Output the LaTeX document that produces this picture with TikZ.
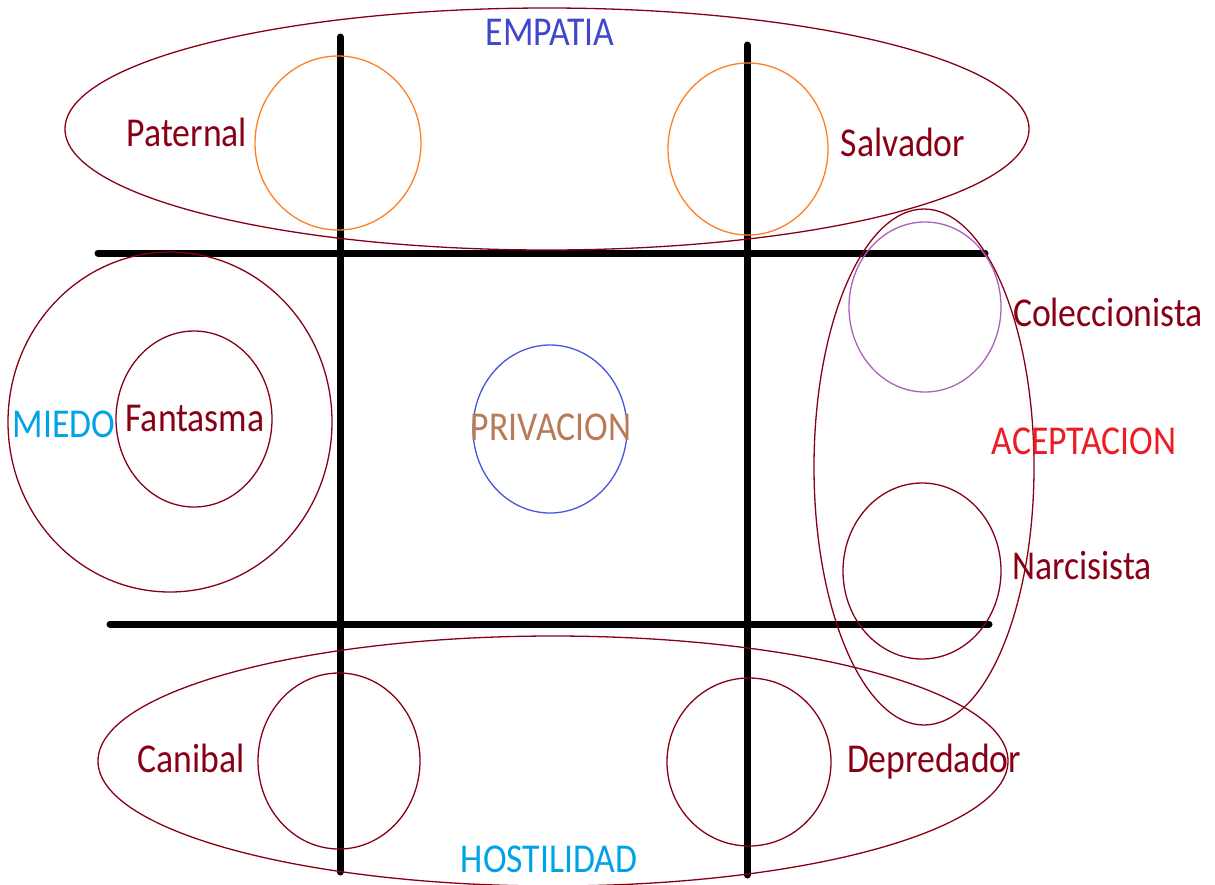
\documentclass[tikz,border=0pt]{standalone}
\usepackage{fontspec}
\setmainfont[FakeStretch=0.87]{Carlito}
\definecolor{dred}{RGB}{136,0,21}
\definecolor{indig}{RGB}{63,72,204}
\definecolor{turq}{RGB}{0,162,232}
\definecolor{pbrown}{RGB}{185,122,87}
\definecolor{pred}{RGB}{237,28,36}
\definecolor{porange}{RGB}{255,127,39}
\definecolor{ppurple}{RGB}{175,95,190}
\definecolor{pblue}{RGB}{70,85,225}
\tikzset{
  thin line/.style={line width=1.3pt},
  axis line/.style={line width=7pt, line cap=round, black},
  lbl/.style={inner sep=0pt, anchor=base, font=\fontsize{41}{41}\selectfont}
}
\begin{document}
\begin{tikzpicture}[x=1pt,y=-1pt]
\useasboundingbox (0,0) rectangle (1215,884);
\fill[white] (0,0) rectangle (1215,884);
% grid lines
\draw[axis line] (340,37) -- (340,872);
\draw[axis line] (747,45) -- (747,875);
\draw[axis line] (98,253) -- (985,253);
\draw[axis line] (110,624) -- (989,624);
% group ellipses
\draw[thin line, dred] (547,129) ellipse [x radius=482pt, y radius=121pt];
\draw[thin line, dred] (553,761) ellipse [x radius=455pt, y radius=125pt];
\draw[thin line, dred] (924,467) ellipse [x radius=110pt, y radius=258pt];
\draw[thin line, dred] (170,422) ellipse [x radius=162pt, y radius=170pt];
% circles
\draw[thin line, porange] (338,143) ellipse [x radius=83pt, y radius=87pt];
\draw[thin line, porange] (748,149) ellipse [x radius=80pt, y radius=86pt];
\draw[thin line, dred] (194,419) ellipse [x radius=78pt, y radius=88pt];
\draw[thin line, pblue] (550,429) ellipse [x radius=77pt, y radius=84pt];
\draw[thin line, ppurple] (925,307) ellipse [x radius=76pt, y radius=85pt];
\draw[thin line, dred] (922,571) ellipse [x radius=79pt, y radius=88pt];
\draw[thin line, dred] (339,761) ellipse [x radius=81pt, y radius=88pt];
\draw[thin line, dred] (749,762) ellipse [x radius=82pt, y radius=84pt];
% labels
\node[lbl, text=indig] (empatia) at (550,45) {EMPATIA};
\node[lbl, text=dred] (paternal) at (187,146) {Paternal};
\node[lbl, text=dred] (salvador) at (903,156) {Salvador};
\node[lbl, text=turq] (miedo) at (64,437) {MIEDO};
\node[lbl, text=dred] (fantasma) at (195,431) {Fantasma};
\node[lbl, text=pbrown] (privacion) at (551,440) {PRIVACION};
\node[lbl, text=dred] (coleccionista) at (1108,326) {Coleccionista};
\node[lbl, text=pred] (aceptacion) at (1084,454) {ACEPTACION};
\node[lbl, text=dred] (narcisista) at (1082,579) {Narcisista};
\node[lbl, text=dred] (canibal) at (191,772) {Canibal};
\node[lbl, text=dred] (depredador) at (934,772) {Depredador};
\node[lbl, text=turq] (hostilidad) at (549,872) {HOSTILIDAD};
\end{tikzpicture}
\end{document}
